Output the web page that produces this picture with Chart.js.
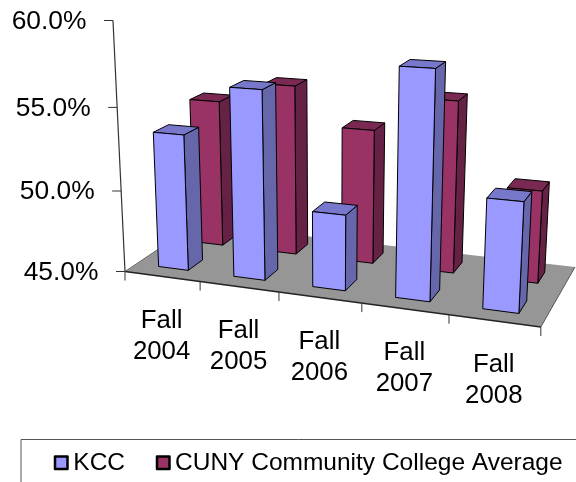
<!DOCTYPE html>
<html>
<head>
<meta charset="utf-8">
<script src="https://cdn.jsdelivr.net/npm/chart.js@4/dist/chart.umd.js"></script>
<style>
html,body{margin:0;padding:0;background:#fff;}
canvas{display:block;filter:blur(0.4px);}
</style>
</head>
<body>
<canvas id="c" width="576" height="482"></canvas>
<script>
const categories = ['Fall 2004','Fall 2005','Fall 2006','Fall 2007','Fall 2008'];
const kccValues = [53.3,56.3,49.5,58.1,51.3];
const cunyValues = [54.2,55.5,53.2,55.3,50.5];
const seriesNames = ['KCC','CUNY Community College Average'];

const FONT = '"Liberation Sans", Arial, sans-serif';
// Camera: homogeneous projection of (u along categories, d into depth, h up), each 0..1
const CAM = {
  x:[125,352,93.4,-18.3],
  y:[271.5,16.9,-23.5,-252.14],
  w:[1,-0.118,0.11,-0.0557]
};
function project(u,d,h){
  const w = CAM.w[0]+CAM.w[1]*u+CAM.w[2]*d+CAM.w[3]*h;
  return [(CAM.x[0]+CAM.x[1]*u+CAM.x[2]*d+CAM.x[3]*h)/w,
          (CAM.y[0]+CAM.y[1]*u+CAM.y[2]*d+CAM.y[3]*h)/w];
}
const PAL = [
  {front:'#9999FF',side:'#6666AA',top:'#7777CC'},
  {front:'#993366',side:'#662244',top:'#7A2952'}
];
const DEPTH_SLOTS = [[0.15,0.35],[0.65,0.85]];

function poly(ctx,pts,fill,stroke,lw){
  ctx.beginPath();
  pts.forEach((p,i)=> i?ctx.lineTo(p[0],p[1]):ctx.moveTo(p[0],p[1]));
  ctx.closePath();
  if(fill){ctx.fillStyle=fill;ctx.fill();}
  if(stroke){ctx.strokeStyle=stroke;ctx.lineWidth=lw||1;ctx.stroke();}
}
function seg(ctx,a,b,color,lw){
  ctx.beginPath();ctx.moveTo(a[0],a[1]);ctx.lineTo(b[0],b[1]);
  ctx.strokeStyle=color;ctx.lineWidth=lw||1;ctx.stroke();
}

const view3d = {
  id:'view3d',
  beforeDatasetsDraw(chart){
    const ctx=chart.ctx, area=chart.chartArea, xs=chart.scales.x, ys=chart.scales.y;
    const U=px=>(px-area.left)/(area.right-area.left);
    const H=px=>(area.bottom-Math.min(px,area.bottom))/(area.bottom-area.top);
    ctx.save();
    ctx.lineJoin='round';
    // floor
    poly(ctx,[project(0,0,0),project(1,0,0),project(1,1,0),project(0,1,0)],'#969696');
    seg(ctx,project(0,0,0),project(1,0,0),'#222',1.4);
    seg(ctx,project(1,0,0),project(1,1,0),'#555',1);
    seg(ctx,project(0,0,0),project(0,1,0),'#666',1);
    // value axis
    seg(ctx,project(0,0,0),project(0,0,1),'#333',1.2);
    ctx.textAlign='right';ctx.textBaseline='middle';ctx.fillStyle='#000';
    ctx.font='26.4px '+FONT;
    ys.ticks.forEach(t=>{
      const p=project(0,0,H(ys.getPixelForValue(t.value)));
      seg(ctx,[p[0]-9,p[1]],p,'#333',1);
      ctx.fillStyle='#000';
      ctx.fillText(t.label,p[0]-26.5,p[1]+1);
    });
    // category axis ticks and labels
    for(let i=0;i<=categories.length;i++){
      const p=project(i/categories.length,0,0);
      seg(ctx,p,[p[0],p[1]+9],'#333',1);
    }
    ctx.textAlign='center';ctx.font='25.8px '+FONT;
    categories.forEach((c,i)=>{
      const p=project(U(xs.getPixelForValue(i)),0,0);
      const lines=c.split(' ');
      lines.forEach((ln,k)=>{
        ctx.fillStyle='#000';
        ctx.fillText(ln,p[0]-0.5,p[1]+44.5+k*30.5);
      });
    });
    // bars: back row first
    for(let s=chart.data.datasets.length-1;s>=0;s--){
      const meta=chart.getDatasetMeta(s), pal=PAL[s], dz=DEPTH_SLOTS[s];
      meta.data.forEach(el=>{
        const u0=U(el.x-el.width/2),u1=U(el.x+el.width/2);
        const h0=H(el.base),h1=H(el.y),d0=dz[0],d1=dz[1];
        poly(ctx,[project(u1,d0,h0),project(u1,d1,h0),project(u1,d1,h1),project(u1,d0,h1)],pal.side,'#000',1);
        poly(ctx,[project(u0,d0,h1),project(u1,d0,h1),project(u1,d1,h1),project(u0,d1,h1)],pal.top,'#000',1);
        poly(ctx,[project(u0,d0,h0),project(u1,d0,h0),project(u1,d0,h1),project(u0,d0,h1)],pal.front,'#000',1);
      });
    }
    // legend
    ctx.strokeStyle='#555';ctx.lineWidth=1;
    ctx.beginPath();ctx.moveTo(21,482);ctx.lineTo(21,439.5);ctx.lineTo(576,439.5);ctx.stroke();
    ctx.textAlign='left';ctx.font='24.5px '+FONT;
    const lg=[[55,73.3],[157,175]];
    chart.data.datasets.forEach((ds,i)=>{
      ctx.fillStyle=PAL[i].front;ctx.strokeStyle='#000';ctx.lineWidth=2.5;
      ctx.beginPath();ctx.rect(lg[i][0],456.5,12.5,12.5);ctx.fill();ctx.stroke();
      ctx.fillStyle='#000';
      ctx.fillText(ds.label,lg[i][1],463);
    });
    ctx.restore();
    return false;
  }
};

new Chart(document.getElementById('c'),{
  type:'bar',
  data:{
    labels:categories,
    datasets:[
      {label:seriesNames[0],data:kccValues,backgroundColor:PAL[0].front},
      {label:seriesNames[1],data:cunyValues,backgroundColor:PAL[1].front}
    ]
  },
  options:{
    responsive:false,
    animation:false,
    grouped:false,
    barPercentage:0.4,
    categoryPercentage:1,
    events:[],
    layout:{padding:0},
    plugins:{legend:{display:false},tooltip:{enabled:false},title:{display:false}},
    scales:{
      x:{display:false,grid:{display:false}},
      y:{display:false,min:45,max:60,grid:{display:false},
         ticks:{stepSize:5,callback:v=>v.toFixed(1)+'%'}}
    }
  },
  plugins:[view3d]
});
</script>
</body>
</html>
